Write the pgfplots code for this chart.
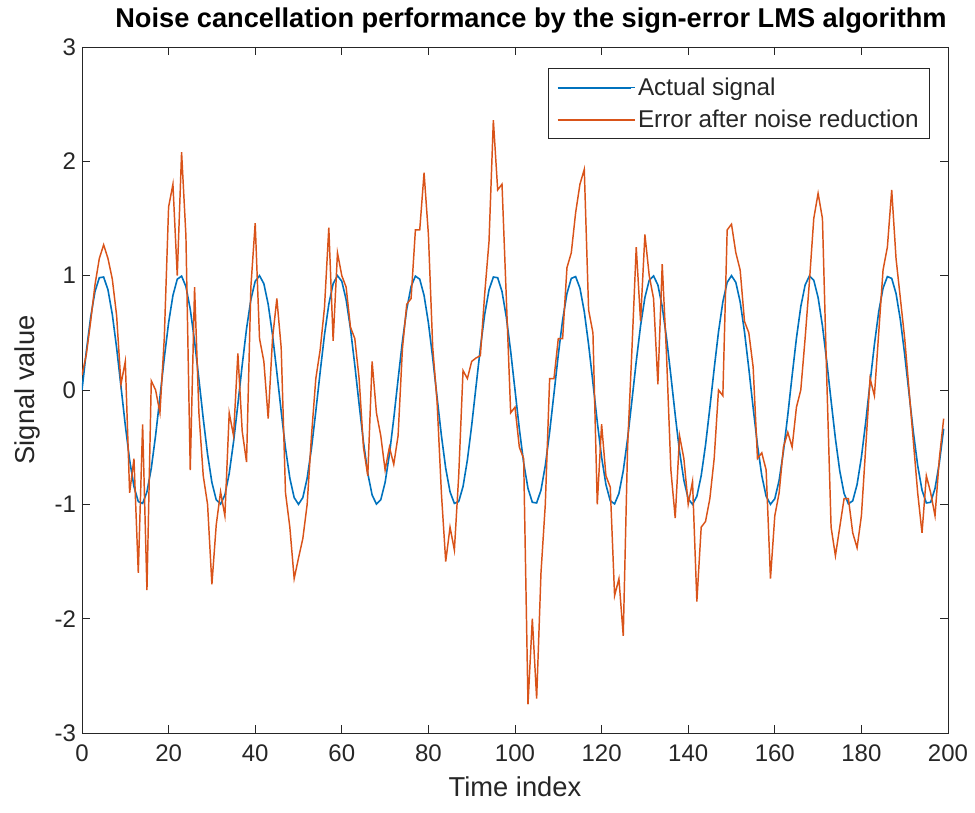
\documentclass[border=0pt]{standalone}
\usepackage{fontspec}
\setmainfont{Liberation Sans}
\usepackage{pgfplots}
\pgfplotsset{compat=1.18}
\definecolor{mblue}{rgb}{0,0.447,0.741}
\definecolor{morange}{rgb}{0.850,0.325,0.098}
\definecolor{axgray}{rgb}{0.15,0.15,0.15}
\pgfplotsset{legend image code/.code={\draw[#1, line width=1.5pt] (0pt,0pt) -- (55pt,0pt); \path (0pt,0pt) -- (57.5pt,0pt);}}
\begin{document}
\begin{tikzpicture}
\begin{axis}[
  scale only axis,
  width=649.5pt, height=514.5pt,
  xmin=0, xmax=200, ymin=-3, ymax=3,
  xtick={0,20,...,200},
  ytick={-3,-2,-1,0,1,2,3},
  yticklabels={-3,-2,-1,0,1,2,3},
  /pgf/number format/assume math mode=true,
  tick align=inside, tick pos=both,
  major tick length=6pt,
  axis line style={axgray, line width=0.7pt},
  every tick/.style={axgray, line width=0.7pt},
  ticklabel style={font=\fontsize{18}{20}\selectfont, text=axgray},
  xticklabel style={yshift=-5pt},
  yticklabel style={xshift=-1pt},
  xlabel={Time index},
  ylabel={Signal value},
  xlabel style={at={(axis description cs:0.5,0)}, anchor=center, yshift=-40.5pt, font=\fontsize{20.5}{24}\selectfont, text=axgray},
  ylabel style={at={(axis description cs:0,0.5)}, anchor=center, yshift=41.25pt, font=\fontsize{20.5}{24}\selectfont, text=axgray},
  title={Noise cancellation performance by the sign-error LMS algorithm},
  title style={at={(axis description cs:0.5,1)}, anchor=center, yshift=13.5pt, xshift=12pt, font=\bfseries\fontsize{20.4}{24}\selectfont, text=black},
  legend style={at={(1,1)}, anchor=north east, xshift=-13.5pt, yshift=-15.75pt,
    draw=axgray, line width=0.6pt, fill=white,
    font=\fontsize{18.2}{22}\selectfont, text=axgray,
    inner xsep=6.25pt, inner ysep=5pt, row sep=5.5pt},
  legend cell align=left,
]
\addplot[mblue, line width=1.2pt] coordinates {
(0,0) (1,0.339) (2,0.637) (3,0.861) (4,0.982) (5,0.988) (6,0.876) (7,0.661) (8,0.368) (9,0.031)
(10,-0.309) (11,-0.613) (12,-0.844) (13,-0.976) (14,-0.992) (15,-0.891) (16,-0.685) (17,-0.397) (18,-0.063) (19,0.279)
(20,0.588) (21,0.827) (22,0.969) (23,0.996) (24,0.905) (25,0.707) (26,0.426) (27,0.094) (28,-0.249) (29,-0.562)
(30,-0.809) (31,-0.960) (32,-0.998) (33,-0.918) (34,-0.729) (35,-0.454) (36,-0.125) (37,0.218) (38,0.536) (39,0.790)
(40,0.951) (41,1.000) (42,0.930) (43,0.750) (44,0.482) (45,0.156) (46,-0.187) (47,-0.509) (48,-0.771) (49,-0.941)
(50,-1.000) (51,-0.941) (52,-0.771) (53,-0.509) (54,-0.187) (55,0.156) (56,0.482) (57,0.750) (58,0.930) (59,1.000)
(60,0.951) (61,0.790) (62,0.536) (63,0.218) (64,-0.125) (65,-0.454) (66,-0.729) (67,-0.918) (68,-0.998) (69,-0.960)
(70,-0.809) (71,-0.562) (72,-0.249) (73,0.094) (74,0.426) (75,0.707) (76,0.905) (77,0.996) (78,0.969) (79,0.827)
(80,0.588) (81,0.279) (82,-0.063) (83,-0.397) (84,-0.685) (85,-0.891) (86,-0.992) (87,-0.976) (88,-0.844) (89,-0.613)
(90,-0.309) (91,0.031) (92,0.368) (93,0.661) (94,0.876) (95,0.988) (96,0.982) (97,0.861) (98,0.637) (99,0.339)
(100,0) (101,-0.339) (102,-0.637) (103,-0.861) (104,-0.982) (105,-0.988) (106,-0.876) (107,-0.661) (108,-0.368) (109,-0.031)
(110,0.309) (111,0.613) (112,0.844) (113,0.976) (114,0.992) (115,0.891) (116,0.685) (117,0.397) (118,0.063) (119,-0.279)
(120,-0.588) (121,-0.827) (122,-0.969) (123,-0.996) (124,-0.905) (125,-0.707) (126,-0.426) (127,-0.094) (128,0.249) (129,0.562)
(130,0.809) (131,0.960) (132,0.998) (133,0.918) (134,0.729) (135,0.454) (136,0.125) (137,-0.218) (138,-0.536) (139,-0.790)
(140,-0.951) (141,-1.000) (142,-0.930) (143,-0.750) (144,-0.482) (145,-0.156) (146,0.187) (147,0.509) (148,0.771) (149,0.941)
(150,1.000) (151,0.941) (152,0.771) (153,0.509) (154,0.187) (155,-0.156) (156,-0.482) (157,-0.750) (158,-0.930) (159,-1.000)
(160,-0.951) (161,-0.790) (162,-0.536) (163,-0.218) (164,0.125) (165,0.454) (166,0.729) (167,0.918) (168,0.998) (169,0.960)
(170,0.809) (171,0.562) (172,0.249) (173,-0.094) (174,-0.426) (175,-0.707) (176,-0.905) (177,-0.996) (178,-0.969) (179,-0.827)
(180,-0.588) (181,-0.279) (182,0.063) (183,0.397) (184,0.685) (185,0.891) (186,0.992) (187,0.976) (188,0.844) (189,0.613)
(190,0.309) (191,-0.031) (192,-0.368) (193,-0.661) (194,-0.876) (195,-0.988) (196,-0.982) (197,-0.861) (198,-0.637) (199,-0.339)
};
\addlegendentry{Actual signal}
\addplot[morange, line width=1.1pt] coordinates {
(0,0.13) (1,0.31) (2,0.6) (3,0.92) (4,1.15) (5,1.27) (6,1.15) (7,0.97) (8,0.65) (9,0.05)
(10,0.25) (11,-0.9) (12,-0.6) (13,-1.6) (14,-0.3) (15,-1.75) (16,0.08) (17,0.0) (18,-0.2) (19,0.45)
(20,1.6) (21,1.8) (22,1.0) (23,2.08) (24,1.35) (25,-0.7) (26,0.9) (27,-0.2) (28,-0.75) (29,-1.0)
(30,-1.7) (31,-1.18) (32,-0.89) (33,-1.1) (34,-0.2) (35,-0.4) (36,0.32) (37,-0.36) (38,-0.63) (39,0.9)
(40,1.46) (41,0.45) (42,0.25) (43,-0.25) (44,0.45) (45,0.8) (46,0.37) (47,-0.9) (48,-1.2) (49,-1.65)
(50,-1.47) (51,-1.3) (52,-1.0) (53,-0.4) (54,0.1) (55,0.35) (56,0.72) (57,1.42) (58,0.43) (59,1.2)
(60,1.0) (61,0.9) (62,0.55) (63,0.45) (64,0.1) (65,-0.5) (66,-0.75) (67,0.25) (68,-0.2) (69,-0.4)
(70,-0.7) (71,-0.5) (72,-0.65) (73,-0.4) (74,0.36) (75,0.75) (76,0.8) (77,1.4) (78,1.4) (79,1.9)
(80,1.36) (81,0.37) (82,-0.1) (83,-0.9) (84,-1.5) (85,-1.2) (86,-1.4) (87,-0.75) (88,0.17) (89,0.1)
(90,0.25) (91,0.28) (92,0.3) (93,0.84) (94,1.3) (95,2.36) (96,1.75) (97,1.8) (98,0.8) (99,-0.2)
(100,-0.15) (101,-0.5) (102,-0.6) (103,-2.75) (104,-2.0) (105,-2.7) (106,-1.6) (107,-1.0) (108,0.1) (109,0.1)
(110,0.45) (111,0.45) (112,1.07) (113,1.2) (114,1.55) (115,1.8) (116,1.93) (117,0.7) (118,0.5) (119,-1.0)
(120,-0.3) (121,-0.75) (122,-0.85) (123,-1.8) (124,-1.65) (125,-2.15) (126,-0.5) (127,0.35) (128,1.25) (129,0.6)
(130,1.36) (131,1.0) (132,0.8) (133,0.05) (134,1.1) (135,0.3) (136,-0.7) (137,-1.12) (138,-0.4) (139,-0.6)
(140,-1.0) (141,-0.8) (142,-1.85) (143,-1.2) (144,-1.15) (145,-0.95) (146,-0.6) (147,0.0) (148,-0.05) (149,1.4)
(150,1.45) (151,1.2) (152,1.05) (153,0.6) (154,0.5) (155,0.2) (156,-0.6) (157,-0.55) (158,-0.7) (159,-1.65)
(160,-1.1) (161,-0.9) (162,-0.5) (163,-0.37) (164,-0.5) (165,-0.15) (166,0.0) (167,0.45) (168,0.95) (169,1.5)
(170,1.72) (171,1.5) (172,0.1) (173,-1.2) (174,-1.45) (175,-1.2) (176,-0.95) (177,-0.95) (178,-1.25) (179,-1.38)
(180,-1.1) (181,-0.5) (182,0.1) (183,-0.05) (184,0.5) (185,1.05) (186,1.25) (187,1.75) (188,1.15) (189,0.8)
(190,0.45) (191,0.0) (192,-0.45) (193,-0.9) (194,-1.25) (195,-0.75) (196,-0.9) (197,-1.1) (198,-0.6) (199,-0.25)
};
\addlegendentry{Error after noise reduction}
\end{axis}
\pgfresetboundingbox
\path[use as bounding box] ([xshift=-61.5pt,yshift=-60pt]current axis.south west) rectangle ([xshift=20.25pt,yshift=35.25pt]current axis.north east);
\end{tikzpicture}
\end{document}
